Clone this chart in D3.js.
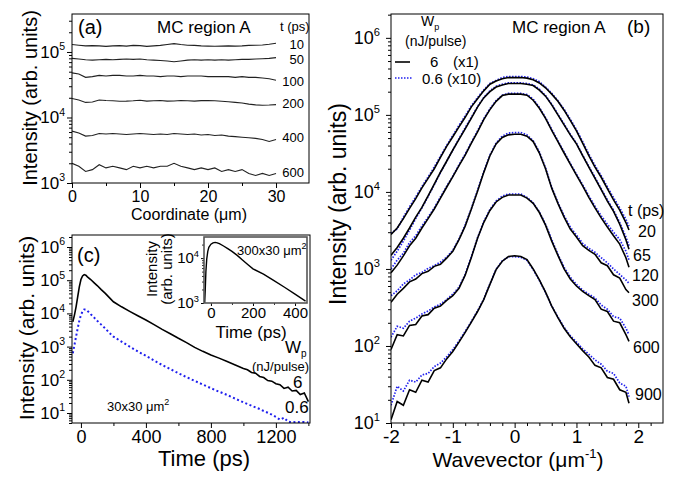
<!DOCTYPE html>
<html>
<head>
<meta charset="utf-8">
<script src="https://cdn.jsdelivr.net/npm/d3@7"></script>
<style>
body { margin: 0; background: #fff; }
svg { font-family: "Liberation Sans", Arial, Helvetica, sans-serif; }
</style>
</head>
<body>
<svg width="684" height="479"></svg>
<script>
// ---------- data: panel (a), intensity vs coordinate ----------
const coordA = [0,1,2,3,4,5,6,7,8,9,10,11,12,13,14,15,16,17,18,19,20,21,22,23,24,25,26,27,28,29,30];
const timesA = ["10", "50", "100", "200", "400", "600"];
const a10  = [1.30e5,1.27e5,1.24e5,1.25e5,1.24e5,1.22e5,1.24e5,1.25e5,1.23e5,1.26e5,1.25e5,1.22e5,1.24e5,1.26e5,1.30e5,1.34e5,1.30e5,1.27e5,1.26e5,1.24e5,1.23e5,1.22e5,1.23e5,1.24e5,1.23e5,1.24e5,1.26e5,1.27e5,1.28e5,1.31e5,1.36e5];
const a50  = [8.0e4,7.8e4,7.6e4,7.5e4,7.6e4,7.7e4,7.6e4,7.7e4,7.8e4,7.7e4,7.8e4,7.6e4,7.5e4,7.4e4,7.3e4,7.1e4,7.3e4,7.5e4,7.6e4,7.5e4,7.6e4,7.5e4,7.6e4,7.5e4,7.6e4,7.7e4,7.7e4,7.8e4,7.9e4,8.0e4,8.2e4];
const a100 = [4.8e4,4.6e4,4.1e4,4.2e4,4.4e4,4.3e4,4.4e4,4.4e4,4.3e4,4.3e4,4.4e4,4.3e4,4.3e4,4.2e4,4.3e4,4.3e4,4.2e4,4.3e4,4.3e4,4.3e4,4.2e4,4.2e4,4.2e4,4.2e4,4.1e4,4.2e4,4.1e4,4.1e4,4.0e4,3.9e4,3.7e4];
const a200 = [1.95e4,1.85e4,1.70e4,1.72e4,1.85e4,1.82e4,1.80e4,1.77e4,1.78e4,1.80e4,1.83e4,1.78e4,1.80e4,1.82e4,1.78e4,1.79e4,1.82e4,1.80e4,1.78e4,1.81e4,1.82e4,1.80e4,1.77e4,1.74e4,1.70e4,1.66e4,1.60e4,1.56e4,1.54e4,1.55e4,1.57e4];
const a400 = [6.2e3,5.8e3,5.2e3,5.3e3,5.7e3,5.6e3,5.7e3,5.6e3,5.5e3,5.6e3,5.7e3,5.6e3,5.5e3,5.6e3,5.5e3,5.7e3,5.6e3,5.5e3,5.6e3,5.4e3,5.5e3,5.3e3,5.4e3,5.2e3,5.1e3,5.0e3,4.9e3,4.8e3,4.6e3,4.3e3,4.6e3];
const a600 = [2.0e3,1.8e3,1.5e3,1.6e3,1.9e3,1.7e3,1.8e3,1.7e3,1.6e3,1.8e3,1.7e3,1.8e3,1.7e3,1.8e3,1.8e3,2.0e3,1.8e3,1.7e3,1.6e3,1.7e3,1.6e3,1.7e3,1.5e3,1.6e3,1.5e3,1.6e3,1.4e3,1.3e3,1.4e3,1.3e3,1.4e3];

// ---------- data: panel (b), intensity vs wavevector ----------
const kB = [-2,-1.9,-1.8,-1.7,-1.6,-1.5,-1.4,-1.3,-1.2,-1.1,-1,-0.9,-0.8,-0.7,-0.6,-0.5,-0.4,-0.3,-0.2,-0.1,0,0.1,0.2,0.3,0.4,0.5,0.6,0.7,0.8,0.9,1,1.1,1.2,1.3,1.4,1.5,1.6,1.7,1.8,1.85];
const timesB = ["20", "65", "120", "300", "600", "900"];
// 6 nJ/pulse (x1), black
const bk20  = [2.8e3,3.4e3,4.5e3,6.1e3,8.2e3,1.13e4,1.5e4,2.0e4,2.8e4,3.9e4,5.2e4,7.0e4,9.3e4,1.27e5,1.62e5,2.05e5,2.5e5,2.75e5,2.95e5,3.05e5,3.05e5,3.05e5,3.0e5,2.85e5,2.6e5,2.25e5,1.86e5,1.5e5,1.15e5,8.5e4,6.2e4,4.3e4,2.95e4,2.1e4,1.55e4,1.1e4,7.9e3,5.8e3,4.0e3,3.2e3];
const bk65  = [1.5e3,1.9e3,2.5e3,3.4e3,4.7e3,6.3e3,8.9e3,1.26e4,1.8e4,2.5e4,3.5e4,4.8e4,6.6e4,9.1e4,1.26e5,1.66e5,2.0e5,2.3e5,2.45e5,2.55e5,2.55e5,2.55e5,2.5e5,2.4e5,2.1e5,1.75e5,1.35e5,1.0e5,7.4e4,5.5e4,4.2e4,2.95e4,2.1e4,1.5e4,1.07e4,7.6e3,5.6e3,3.8e3,2.4e3,1.8e3];
const bk120 = [890,1120,1480,2000,2500,3400,4500,6000,8300,1.15e4,1.58e4,2.2e4,3.0e4,4.3e4,6.0e4,8.7e4,1.17e5,1.5e5,1.78e5,1.86e5,1.86e5,1.86e5,1.8e5,1.55e5,1.22e5,9.0e4,6.3e4,4.5e4,3.2e4,2.3e4,1.65e4,1.2e4,8.5e3,6.2e3,4.6e3,3.5e3,2.7e3,2.1e3,1.4e3,1.05e3];
const bk300 = [370,470,560,680,740,870,930,1080,1150,1380,1700,2400,3600,6000,1.02e4,1.78e4,2.95e4,4.2e4,5.1e4,5.5e4,5.6e4,5.6e4,5.3e4,4.5e4,3.2e4,2.0e4,1.12e4,7.1e3,4.7e3,3.3e3,2.6e3,2.0e3,1.74e3,1.55e3,1.2e3,1.1e3,840,760,540,490];
const bk600 = [90,140,135,185,190,245,255,310,330,390,450,560,830,1410,2500,4000,5750,7400,8500,9100,9100,9100,8300,7100,5400,3700,2300,1500,1000,740,600,510,450,400,300,280,210,200,140,115];
const bk900 = [11,19,17,27,25,36,34,48,52,68,85,112,150,204,280,400,630,980,1260,1450,1480,1450,1320,1000,720,500,330,234,170,132,107,87,72,56,52,39,37,27,25,18];
// 0.6 nJ/pulse (x10), blue dotted
const bl20  = [2.9e3,3.3e3,4.7e3,6.4e3,8.6e3,1.17e4,1.56e4,2.1e4,2.9e4,4.0e4,5.4e4,7.3e4,9.7e4,1.31e5,1.67e5,2.1e5,2.55e5,2.8e5,3.05e5,3.15e5,3.15e5,3.15e5,3.1e5,2.95e5,2.7e5,2.3e5,1.9e5,1.53e5,1.18e5,8.8e4,6.4e4,4.5e4,3.1e4,2.2e4,1.62e4,1.16e4,8.4e3,6.2e3,4.4e3,3.6e3];
const bl65  = [1.3e3,1.7e3,2.3e3,3.2e3,4.5e3,6.2e3,8.7e3,1.24e4,1.78e4,2.5e4,3.5e4,4.9e4,6.8e4,9.3e4,1.28e5,1.68e5,2.05e5,2.35e5,2.5e5,2.6e5,2.6e5,2.6e5,2.55e5,2.45e5,2.15e5,1.78e5,1.38e5,1.02e5,7.6e4,5.6e4,4.3e4,3.0e4,2.15e4,1.55e4,1.1e4,7.9e3,5.8e3,4.0e3,2.6e3,2.0e3];
const bl120 = [1.0e3,1.3e3,1.6e3,2.2e3,2.7e3,3.6e3,4.7e3,6.2e3,8.6e3,1.18e4,1.6e4,2.25e4,3.1e4,4.4e4,6.2e4,8.9e4,1.2e5,1.53e5,1.8e5,1.9e5,1.9e5,1.9e5,1.84e5,1.6e5,1.25e5,9.2e4,6.5e4,4.6e4,3.3e4,2.35e4,1.7e4,1.24e4,8.9e3,6.5e3,4.9e3,3.8e3,3.0e3,2.4e3,1.7e3,1.3e3];
const bl300 = [450,520,640,720,840,900,1020,1100,1230,1420,1750,2450,3700,6100,1.05e4,1.82e4,3.0e4,4.3e4,5.3e4,5.8e4,5.9e4,5.9e4,5.5e4,4.6e4,3.3e4,2.05e4,1.15e4,7.3e3,4.9e3,3.5e3,2.75e3,2.15e3,1.85e3,1.65e3,1.4e3,1.2e3,1.0e3,850,720,650];
const bl600 = [130,180,170,210,230,260,285,320,350,400,470,580,850,1450,2550,4100,5900,7600,8800,9400,9400,9400,8500,7200,5500,3800,2400,1550,1050,780,630,530,470,420,340,300,240,230,170,140];
const bl900 = [17,30,26,36,34,42,44,54,60,72,90,116,155,208,285,405,640,990,1270,1440,1440,1420,1290,980,710,495,330,238,175,136,112,92,78,66,58,47,44,33,30,22];

// ---------- data: panel (c), decay curves ----------
const timeC = [-50,-40,-30,-20,-10,0,10,20,30,40,60,80,100,125,150,175,200,250,300,350,400,450,500,550,600,650,700,750,800,850,900,950,1000,1025,1050,1075,1100,1125,1150,1175,1200,1225,1250,1275,1300,1325,1350,1375,1400];
const c6  = [5600,8900,1.58e4,3.16e4,6.3e4,1.05e5,1.35e5,1.48e5,1.41e5,1.26e5,1.05e5,8.5e4,6.9e4,5.2e4,4.0e4,3.0e4,2.24e4,1.58e4,1.15e4,8500,6300,4600,3300,2450,1780,1320,950,720,560,450,355,280,220,200,166,158,126,117,95,91,76,71,55,60,46,48,36,40,22];
const c06 = [630,1120,2000,3550,6000,8900,1.15e4,1.32e4,1.32e4,1.2e4,9500,7600,6000,4600,3500,2600,2000,1410,1000,720,525,380,280,210,158,120,93,72,56,44,35,27,21,18.6,16.6,14.8,13.2,11.5,10.2,8.9,7.6,6.3,7.2,5.5,5.2,5.4,5.3,5.4,5.2];
// inset: 300x30 um^2
const timeIn = [-30,-27,-24,-20,-15,-10,0,10,20,30,40,60,80,100,125,150,175,200,250,300,350,400,450];
const inVal  = [950,2000,5000,9500,1.41e4,1.74e4,2.04e4,2.19e4,2.24e4,2.19e4,2.09e4,1.86e4,1.62e4,1.41e4,1.15e4,9100,7200,5750,4400,3160,2240,1580,1100];

const FONT = '"Liberation Sans", Arial, Helvetica, sans-serif';
const BLUE = "#1f1fee";
const svg = d3.select("svg");
const defs = svg.append("defs");

function clip(id, x0, y0, w, h) {
    defs.append("clipPath").attr("id", id)
        .append("rect").attr("x", x0).attr("y", y0).attr("width", w).attr("height", h);
    return `url(#${id})`;
}

function label(x, y, s, size, anchor) {
    return svg.append("text")
        .attr("x", x).attr("y", y)
        .attr("font-size", size)
        .attr("text-anchor", anchor || "start")
        .text(s);
}

function logTicks(y) {
    const [lo, hi] = y.domain();
    const majors = [], minors = [];
    for (let e = Math.floor(Math.log10(lo)); e <= Math.ceil(Math.log10(hi)); e++) {
        for (let m = 1; m < 10; m++) {
            const v = m * Math.pow(10, e);
            if (v < lo * 0.999 || v > hi * 1.001) continue;
            (m === 1 ? majors : minors).push(v);
        }
    }
    return [majors, minors];
}

function logAxisLeft(x0, y, fs, pad, size) {
    const [majors, minors] = logTicks(y);
    const big = size || 5;
    const a = svg.append("g").attr("transform", `translate(${x0},0)`)
        .call(d3.axisLeft(y).tickValues(majors).tickSize(big).tickPadding(pad).tickFormat(() => "10"));
    a.select(".domain").remove();
    a.attr("font-size", fs).attr("font-family", FONT);
    a.selectAll(".tick text").attr("fill", "#000")
        .append("tspan")
        .attr("dy", -0.45 * fs)
        .attr("font-size", fs * 0.62)
        .text(d => Math.round(Math.log10(d)));
    const b = svg.append("g").attr("transform", `translate(${x0},0)`)
        .call(d3.axisLeft(y).tickValues(minors).tickSize(big * 0.6).tickFormat(""));
    b.select(".domain").remove();
}

function linAxisBottom(y0, x, majors, minors, fs, pad, size) {
    const big = size || 5;
    const a = svg.append("g").attr("transform", `translate(0,${y0})`)
        .call(d3.axisBottom(x).tickValues(majors).tickSize(big).tickPadding(pad).tickFormat(d => String(d)));
    a.select(".domain").remove();
    a.attr("font-size", fs).attr("font-family", FONT);
    a.selectAll(".tick text").attr("fill", "#000");
    const b = svg.append("g").attr("transform", `translate(0,${y0})`)
        .call(d3.axisBottom(x).tickValues(minors).tickSize(big * 0.6).tickFormat(""));
    b.select(".domain").remove();
}

function frame(x0, y0, x1, y1, color, width) {
    svg.append("rect")
        .attr("x", x0).attr("y", y0)
        .attr("width", x1 - x0).attr("height", y1 - y0)
        .attr("fill", "none")
        .attr("stroke", color || "#000")
        .attr("stroke-width", width || 1);
}

function yTitle(x, y, s, size) {
    svg.append("text")
        .attr("transform", `translate(${x},${y}) rotate(-90)`)
        .attr("text-anchor", "middle")
        .attr("font-size", size)
        .text(s);
}

// ===== (a) =====
const ax = d3.scaleLinear().domain([0, 34.85]).range([72, 309]);
const ay = d3.scaleLog().domain([1e3, 3.8e5]).range([183, 14]);
const clipA = clip("clipA", 72, 14, 237, 169);
const lineA = d3.line().x((d, i) => ax(coordA[i])).y(d => ay(d));
[a10, a50, a100, a200, a400, a600].forEach(s => {
    svg.append("path").attr("d", lineA(s)).attr("clip-path", clipA)
        .attr("fill", "none").attr("stroke", "#222").attr("stroke-width", 1.1);
});
logAxisLeft(72, ay, 17, 2);
linAxisBottom(183, ax, [0, 10, 20, 30], [5, 15, 25], 16, 3);
frame(72, 14, 309, 183);
label(78, 34, "(a)", 20);
label(157, 33, "MC region A", 17);
label(280, 31, "t (ps)", 13);
const labYA = [49, 64, 86, 108, 142, 177];
timesA.forEach((t, i) => label(304, labYA[i], t, 13, "end"));
label(189, 220, "Coordinate (\u03bcm)", 16, "middle");
yTitle(37, 98, "Intensity (arb. units)", 20);

// ===== (b) =====
const bx = d3.scaleLinear().domain([-2, 2.4]).range([391, 663]);
const by = d3.scaleLog().domain([10, 2.04e6]).range([423, 14]);
const clipB = clip("clipB", 391, 14, 272, 409);
const lineB = d3.line().x((d, i) => bx(kB[i])).y(d => by(d));
[bl20, bl65, bl120, bl300, bl600, bl900].forEach(s => {
    svg.append("path").attr("d", lineB(s)).attr("clip-path", clipB)
        .attr("fill", "none").attr("stroke", BLUE).attr("stroke-width", 1.7)
        .attr("stroke-dasharray", "1.5 1.5");
});
[bk20, bk65, bk120, bk300, bk600, bk900].forEach(s => {
    svg.append("path").attr("d", lineB(s)).attr("clip-path", clipB)
        .attr("fill", "none").attr("stroke", "#000").attr("stroke-width", 1.6);
});
logAxisLeft(391, by, 18, 6);
linAxisBottom(423, bx, [-2, -1, 0, 1, 2], [-1.8,-1.6,-1.4,-1.2,-0.8,-0.6,-0.4,-0.2,0.2,0.4,0.6,0.8,1.2,1.4,1.6,1.8,2.2], 19, 2);
frame(391, 14, 663, 423);
label(512, 33, "MC region A", 17);
label(627, 33, "(b)", 19);
// legend
label(421, 26, "W", 14).append("tspan").attr("font-size", 9).attr("dy", 4).text("p");
label(405, 46, "(nJ/pulse)", 14);
svg.append("line").attr("x1", 395).attr("x2", 410).attr("y1", 62).attr("y2", 62)
    .attr("stroke", "#000").attr("stroke-width", 1.6);
label(430, 67, "6", 15);
label(453, 67, "(x1)", 15);
svg.append("line").attr("x1", 395).attr("x2", 412).attr("y1", 78).attr("y2", 78)
    .attr("stroke", BLUE).attr("stroke-width", 1.7).attr("stroke-dasharray", "1.5 1.5");
label(422, 84, "0.6", 15);
label(447, 84, "(x10)", 15);
label(628, 216, "t (ps)", 16);
const labXB = [638, 633, 632, 632, 633, 635];
const labYB = [237, 261, 281, 306, 353, 400];
timesB.forEach((t, i) => label(labXB[i], labYB[i], t, 16));
label(518, 467, "", 21, "middle")
    .call(t => {
        t.append("tspan").text("Wavevector (\u03bcm");
        t.append("tspan").attr("font-size", 13).attr("dy", -9).text("-1");
        t.append("tspan").attr("dy", 9).text(")");
    });
yTitle(346, 204, "Intensity (arb. units)", 23);

// ===== (c) =====
const cx = d3.scaleLinear().domain([-55, 1410]).range([72, 310]);
const cy = d3.scaleLog().domain([5, 2.3e6]).range([423, 235]);
const clipC = clip("clipC", 72, 235, 238, 188);
const lineC = d3.line().x((d, i) => cx(timeC[i])).y(d => cy(d));
svg.append("path").attr("d", lineC(c06)).attr("clip-path", clipC)
    .attr("fill", "none").attr("stroke", BLUE).attr("stroke-width", 2)
    .attr("stroke-dasharray", "2 2.5");
svg.append("path").attr("d", lineC(c6)).attr("clip-path", clipC)
    .attr("fill", "none").attr("stroke", "#000").attr("stroke-width", 1.6);
logAxisLeft(72, cy, 17, 2);
linAxisBottom(423, cx, [0, 400, 800, 1200], [200, 600, 1000, 1400], 18, 2);
frame(72, 235, 310, 423);
label(77, 262, "(c)", 20);
label(107, 411, "30x30 \u03bcm", 13).append("tspan").attr("font-size", 9).attr("dy", -6).text("2");
label(285, 353, "W", 17).append("tspan").attr("font-size", 10).attr("dy", 4).text("p");
label(252, 371, "(nJ/pulse)", 13);
label(293, 388, "6", 17);
label(285, 413, "0.6", 17);
label(204, 466, "Time (ps)", 22, "middle");
yTitle(34, 328, "Intensity (arb. units)", 21);

// inset
const ix = d3.scaleLinear().domain([-33, 457]).range([204, 307]);
const iy = d3.scaleLog().domain([1e3, 2.95e4]).range([303, 237]);
svg.append("rect").attr("x", 204).attr("y", 237).attr("width", 103).attr("height", 66).attr("fill", "#fff");
const clipI = clip("clipI", 204, 237, 103, 66);
const lineI = d3.line().x((d, i) => ix(timeIn[i])).y(d => iy(d));
svg.append("path").attr("d", lineI(inVal)).attr("clip-path", clipI)
    .attr("fill", "none").attr("stroke", "#000").attr("stroke-width", 1.4);
logAxisLeft(204, iy, 15, 2, 3);
linAxisBottom(303, ix, [0, 200, 400], [100, 300], 15, 1, 3);
frame(204, 237, 307, 303, "#555", 1.6);
label(237, 255, "300x30 \u03bcm", 13).append("tspan").attr("font-size", 9).attr("dy", -6).text("2");
label(251, 338, "Time (ps)", 17, "middle");
yTitle(157, 269, "Intensity", 15);
yTitle(172, 269, "(arb. units)", 15);
</script>
</body>
</html>
